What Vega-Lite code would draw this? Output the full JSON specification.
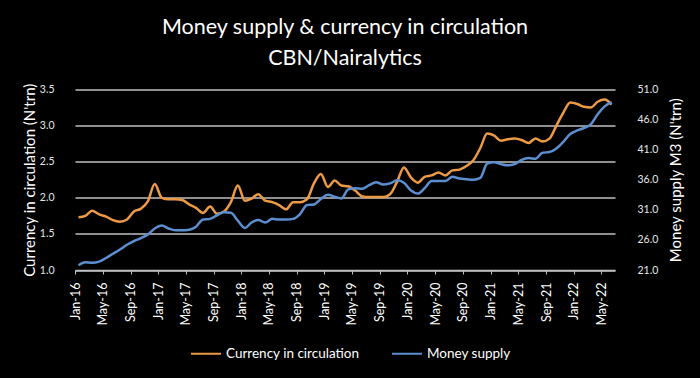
{
  "$schema": "https://vega.github.io/schema/vega-lite/v6.json",
  "width": 540,
  "height": 180.5,
  "autosize": {"type": "none"},
  "padding": {"left": 75, "top": 89.5, "right": 85, "bottom": 108},
  "background": "#000000",
  "title": {
    "text": ["Money supply & currency in circulation", "CBN/Nairalytics"],
    "font": "Lato",
    "fontSize": 21.5,
    "fontWeight": "normal",
    "color": "#ffffff",
    "lineHeight": 31,
    "anchor": "middle",
    "offset": 14
  },
  "config": {
    "view": {"stroke": null},
    "font": "Lato",
    "axis": {"labelFont": "Lato", "titleFont": "Lato", "labelColor": "#e6e6e6", "titleColor": "#ffffff", "titleFontWeight": "normal"},
    "legend": {"labelFont": "Lato"}
  },
  "data": {
    "values": [
      {"month": "2016-01-01", "currency": 1.73, "m3": 21.8},
      {"month": "2016-02-01", "currency": 1.75, "m3": 22.3},
      {"month": "2016-03-01", "currency": 1.82, "m3": 22.2},
      {"month": "2016-04-01", "currency": 1.77, "m3": 22.4},
      {"month": "2016-05-01", "currency": 1.74, "m3": 23.0},
      {"month": "2016-06-01", "currency": 1.69, "m3": 23.7},
      {"month": "2016-07-01", "currency": 1.67, "m3": 24.4},
      {"month": "2016-08-01", "currency": 1.70, "m3": 25.2},
      {"month": "2016-09-01", "currency": 1.81, "m3": 25.8},
      {"month": "2016-10-01", "currency": 1.85, "m3": 26.3},
      {"month": "2016-11-01", "currency": 1.95, "m3": 26.9},
      {"month": "2016-12-01", "currency": 2.19, "m3": 27.9},
      {"month": "2017-01-01", "currency": 2.00, "m3": 28.4},
      {"month": "2017-02-01", "currency": 1.98, "m3": 27.9},
      {"month": "2017-03-01", "currency": 1.98, "m3": 27.6},
      {"month": "2017-04-01", "currency": 1.97, "m3": 27.6},
      {"month": "2017-05-01", "currency": 1.91, "m3": 27.7},
      {"month": "2017-06-01", "currency": 1.86, "m3": 28.2},
      {"month": "2017-07-01", "currency": 1.79, "m3": 29.4},
      {"month": "2017-08-01", "currency": 1.88, "m3": 29.5},
      {"month": "2017-09-01", "currency": 1.78, "m3": 30.1},
      {"month": "2017-10-01", "currency": 1.81, "m3": 30.6},
      {"month": "2017-11-01", "currency": 1.94, "m3": 30.5},
      {"month": "2017-12-01", "currency": 2.17, "m3": 29.2},
      {"month": "2018-01-01", "currency": 1.96, "m3": 28.0},
      {"month": "2018-02-01", "currency": 1.99, "m3": 28.9},
      {"month": "2018-03-01", "currency": 2.05, "m3": 29.3},
      {"month": "2018-04-01", "currency": 1.96, "m3": 28.9},
      {"month": "2018-05-01", "currency": 1.94, "m3": 29.5},
      {"month": "2018-06-01", "currency": 1.90, "m3": 29.4},
      {"month": "2018-07-01", "currency": 1.84, "m3": 29.4},
      {"month": "2018-08-01", "currency": 1.94, "m3": 29.5},
      {"month": "2018-09-01", "currency": 1.94, "m3": 30.3},
      {"month": "2018-10-01", "currency": 1.98, "m3": 31.8},
      {"month": "2018-11-01", "currency": 2.20, "m3": 31.9},
      {"month": "2018-12-01", "currency": 2.33, "m3": 32.8},
      {"month": "2019-01-01", "currency": 2.15, "m3": 33.5},
      {"month": "2019-02-01", "currency": 2.24, "m3": 33.2},
      {"month": "2019-03-01", "currency": 2.17, "m3": 32.9},
      {"month": "2019-04-01", "currency": 2.16, "m3": 34.4},
      {"month": "2019-05-01", "currency": 2.10, "m3": 34.6},
      {"month": "2019-06-01", "currency": 2.02, "m3": 34.5},
      {"month": "2019-07-01", "currency": 2.01, "m3": 35.1},
      {"month": "2019-08-01", "currency": 2.01, "m3": 35.6},
      {"month": "2019-09-01", "currency": 2.01, "m3": 35.2},
      {"month": "2019-10-01", "currency": 2.05, "m3": 35.4},
      {"month": "2019-11-01", "currency": 2.22, "m3": 35.9},
      {"month": "2019-12-01", "currency": 2.42, "m3": 35.5},
      {"month": "2020-01-01", "currency": 2.28, "m3": 34.2},
      {"month": "2020-02-01", "currency": 2.21, "m3": 33.7},
      {"month": "2020-03-01", "currency": 2.29, "m3": 34.6},
      {"month": "2020-04-01", "currency": 2.31, "m3": 35.8},
      {"month": "2020-05-01", "currency": 2.35, "m3": 35.8},
      {"month": "2020-06-01", "currency": 2.31, "m3": 35.8},
      {"month": "2020-07-01", "currency": 2.38, "m3": 36.5},
      {"month": "2020-08-01", "currency": 2.39, "m3": 36.2},
      {"month": "2020-09-01", "currency": 2.44, "m3": 36.1},
      {"month": "2020-10-01", "currency": 2.52, "m3": 36.0},
      {"month": "2020-11-01", "currency": 2.69, "m3": 36.3},
      {"month": "2020-12-01", "currency": 2.89, "m3": 38.7},
      {"month": "2021-01-01", "currency": 2.86, "m3": 38.9},
      {"month": "2021-02-01", "currency": 2.79, "m3": 38.6},
      {"month": "2021-03-01", "currency": 2.81, "m3": 38.4},
      {"month": "2021-04-01", "currency": 2.82, "m3": 38.6},
      {"month": "2021-05-01", "currency": 2.80, "m3": 39.3},
      {"month": "2021-06-01", "currency": 2.76, "m3": 39.6},
      {"month": "2021-07-01", "currency": 2.82, "m3": 39.5},
      {"month": "2021-08-01", "currency": 2.78, "m3": 40.5},
      {"month": "2021-09-01", "currency": 2.82, "m3": 40.6},
      {"month": "2021-10-01", "currency": 3.00, "m3": 41.2},
      {"month": "2021-11-01", "currency": 3.18, "m3": 42.3},
      {"month": "2021-12-01", "currency": 3.32, "m3": 43.6},
      {"month": "2022-01-01", "currency": 3.30, "m3": 44.2},
      {"month": "2022-02-01", "currency": 3.26, "m3": 44.6},
      {"month": "2022-03-01", "currency": 3.25, "m3": 45.2},
      {"month": "2022-04-01", "currency": 3.33, "m3": 46.9},
      {"month": "2022-05-01", "currency": 3.36, "m3": 48.2},
      {"month": "2022-06-01", "currency": 3.29, "m3": 48.9}
    ]
  },
  "encoding": {
    "x": {
      "field": "month",
      "timeUnit": "utcyearmonth",
      "type": "temporal",
      "bandPosition": 0.5,
      "scale": {"domain": [{"year": 2016, "month": 1, "date": 1, "utc": true}, {"year": 2022, "month": 7, "date": 1, "utc": true}]},
      "axis": {
        "title": null,
        "format": "%b-%y",
        "tickCount": {"interval": "month", "step": 4},
        "labelAngle": -90,
        "labelFontSize": 12.5,
        "labelPadding": 8,
        "labelColor": "#ffffff",
        "grid": false,
        "domainColor": "#bfbfbf",
        "domainWidth": 1.5,
        "tickColor": "#bfbfbf",
        "tickSize": 4,
        "tickWidth": 1,
        "labelFlush": false,
        "labelOverlap": false
      }
    }
  },
  "layer": [
    {
      "mark": {"type": "line", "strokeWidth": 2.5, "interpolate": "monotone"},
      "encoding": {
        "y": {
          "field": "currency",
          "type": "quantitative",
          "scale": {"domain": [1, 3.5], "nice": false, "zero": false},
          "axis": {
            "title": "Currency in circulation (N'trn)",
            "titleFontSize": 15,
            "titlePadding": 2,
            "values": [1, 1.5, 2, 2.5, 3, 3.5],
            "format": ".1f",
            "labelFontSize": 10.5,
            "labelPadding": 21,
            "ticks": false,
            "domain": false,
            "grid": true,
            "gridColor": "#bfbfbf",
            "gridWidth": 1.5
          }
        },
        "color": {
          "datum": "Currency in circulation",
          "type": "nominal",
          "scale": {"domain": ["Currency in circulation", "Money supply"], "range": ["#ED9A45", "#5B8FD0"]},
          "legend": {
            "title": null,
            "orient": "none",
            "legendX": 115,
            "legendY": 248,
            "direction": "horizontal",
            "symbolType": "stroke",
            "symbolSize": 900,
            "symbolStrokeWidth": 2,
            "labelColor": "#ffffff",
            "labelFontSize": 13.5,
            "columnPadding": 28
          }
        }
      }
    },
    {
      "mark": {"type": "line", "strokeWidth": 2.5, "interpolate": "monotone"},
      "encoding": {
        "y": {
          "field": "m3",
          "type": "quantitative",
          "scale": {"domain": [21, 51], "nice": false, "zero": false},
          "axis": {
            "orient": "right",
            "title": "Money supply M3 (N'trn)",
            "titleFontSize": 15,
            "titleAngle": -90,
            "titlePadding": 26,
            "values": [21, 26, 31, 36, 41, 46, 51],
            "format": ".1f",
            "labelFontSize": 10.5,
            "labelPadding": 22,
            "ticks": false,
            "domain": false,
            "grid": false
          }
        },
        "color": {"datum": "Money supply", "type": "nominal"}
      }
    }
  ],
  "resolve": {"scale": {"y": "independent"}}
}
